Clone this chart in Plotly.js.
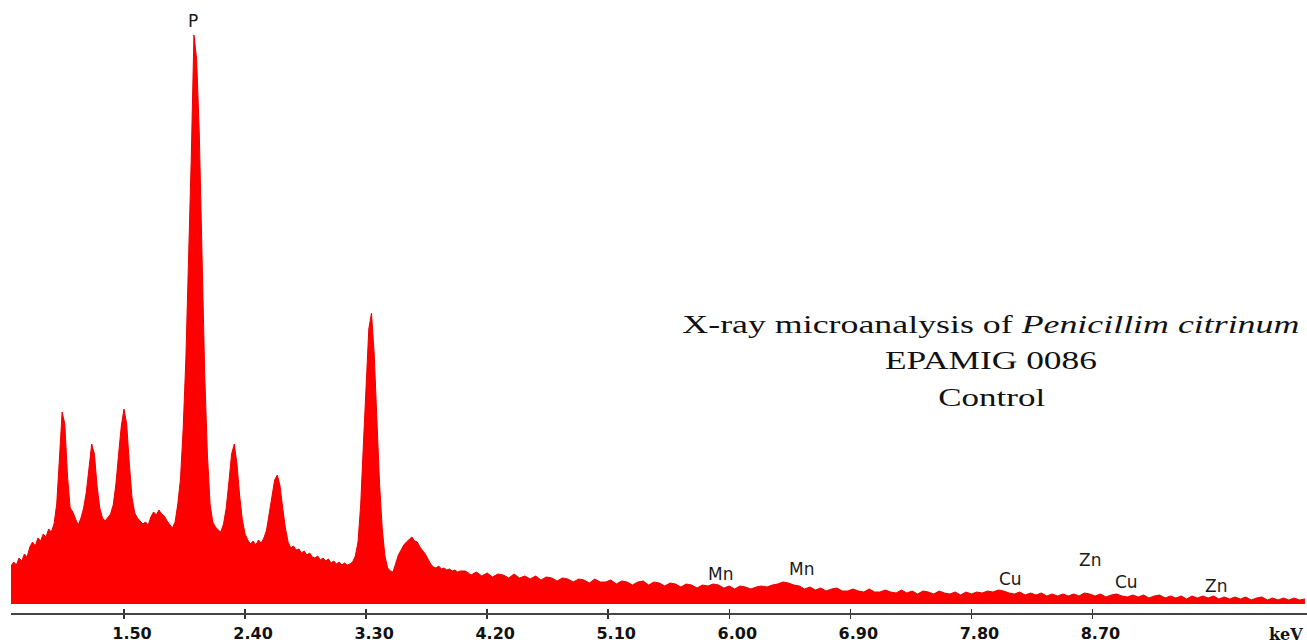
<!DOCTYPE html>
<html><head><meta charset="utf-8">
<script src="https://cdn.plot.ly/plotly-3.0.1.min.js"></script>
<style>html,body{margin:0;padding:0;background:#fff}#chart{width:1307px;height:643px}</style>
</head><body><div id="chart"></div>
<script>
// Spectrum, low-energy part: channels from 0.66 keV, 0.02 keV apart
const lowStartKeV = 0.66, lowStepKeV = 0.02;
const lowCounts = [
38,42,39,46,43,50,47,57,62,58,66,63,70,67,75,72,80,100,145,192,
180,128,96,92,85,79,86,96,112,138,160,150,118,96,86,83,87,90,99,120,
150,178,195,180,140,106,91,86,83,80,82,79,87,92,89,94,90,88,83,80,
76,82,100,125,175,245,335,445,569,545,470,350,230,150,100,82,77,74,72,80,
96,122,150,160,140,108,84,70,64,60,63,59,64,61,66,74,90,108,124,129,
118,96,76,62,56,58,54,55,51,53,49,51,47,46,48,44,46,43,45,41,
43,40,42,39,41,39,40,42,48,62,100,160,225,275,291,250,185,120,75,48,
36,33,32,40,49,54,59,62,65,67,63,62,57,54,50,45,40,37,36,38,
35,36,34,35,33,34,32,33
];
// Spectrum, high-energy part: channels from 4.04 keV, 0.04 keV apart
const highStartKeV = 4.04, highStepKeV = 0.04;
const highCounts = [
33,29,32,28,31,27,30,29,26,30,26,28,25,28,24,27,26,23,26,25,
22,25,24,21,25,22,22,24,20,23,22,19,22,23,19,22,21,18,21,20,
17,20,19,16,19,18,20,19,16,18,15,18,17,15,17,18,17,19,20,22,
21,19,18,15,17,14,16,13,15,16,13,13,15,13,12,15,12,12,14,12,
11,14,11,13,10,13,12,10,13,11,10,12,9,12,10,12,11,13,12,14,
13,11,10,12,9,11,9,11,8,10,8,10,8,10,8,11,10,8,10,7,
9,10,8,7,9,7,9,6,8,9,6,8,6,8,5,8,6,8,6,8,
5,7,5,7,5,7,4,6,7,4,6,4,6,4,6,4,5
];
const tickValues = [1.5, 2.4, 3.3, 4.2, 5.1, 6.0, 6.9, 7.8, 8.7];
const tickLabels = ['1.50', '2.40', '3.30', '4.20', '5.10', '6.00', '6.90', '7.80', '8.70'];
const unitLabel = 'keV';
const peakNames = ['P', 'Mn', 'Mn', 'Cu', 'Zn', 'Cu', 'Zn'];
const peakLabelKeV = [2.014, 5.938, 6.534, 8.090, 8.678, 8.953, 9.616];
const peakLabelCounts = [583, 30, 35, 25, 44, 22, 18];
const titleLines = ['X-ray microanalysis of <i>Penicillim citrinum</i>', 'EPAMIG 0086', 'Control'];

const energy = [];
const counts = [];
lowCounts.forEach((c, i) => { energy.push(+(lowStartKeV + i * lowStepKeV).toFixed(3)); counts.push(c); });
highCounts.forEach((c, i) => { energy.push(+(highStartKeV + i * highStepKeV).toFixed(3)); counts.push(c); });

const xRange = [0.660, 10.295];
const titleX = 7.948;
const titleY = [280, 244, 207];
const titleWidths = [617, 212, 107];

const annotations = [];
peakNames.forEach((n, i) => annotations.push({
  x: peakLabelKeV[i], y: peakLabelCounts[i], xref: 'x', yref: 'y', text: n, showarrow: false,
  xanchor: 'center', yanchor: 'middle', font: {family: 'DejaVu Sans', size: 17, color: '#1a1a1a'}
}));
titleLines.forEach((t, i) => annotations.push({
  x: titleX, y: titleY[i], xref: 'x', yref: 'y', text: t, showarrow: false,
  xanchor: 'center', yanchor: 'middle', font: {family: 'Liberation Serif', size: 26, color: '#111'}
}));
annotations.push({
  x: 9.998, y: -0.036, xref: 'x', yref: 'paper', text: unitLabel, showarrow: false,
  xanchor: 'left', yanchor: 'middle', font: {family: 'DejaVu Serif', size: 16, color: '#111', weight: 'bold'}
});

const traces = [
  {x: energy, y: counts, type: 'scatter', mode: 'lines', fill: 'tozeroy',
   fillcolor: '#ff0000', line: {color: '#ee0000', width: 1}, hoverinfo: 'x+y', showlegend: false},
  {x: [], y: [], type: 'scatter', mode: 'lines', xaxis: 'x2', yaxis: 'y', showlegend: false, hoverinfo: 'skip'}
];

const layout = {
  width: 1307, height: 643,
  margin: {l: 11, r: 0, t: 20, b: 30, pad: 0},
  paper_bgcolor: '#fff', plot_bgcolor: '#fff',
  showlegend: false,
  xaxis: {
    range: xRange, tickvals: tickValues, ticktext: tickLabels,
    ticks: 'outside', ticklen: 4, tickwidth: 1.5, tickcolor: '#333',
    ticklabelshift: 8, ticklabelstandoff: 1,
    showline: true, linecolor: '#444', linewidth: 1.5,
    showgrid: false, zeroline: false,
    tickfont: {family: 'DejaVu Sans', size: 16, color: '#111', weight: 'bold'}
  },
  xaxis2: {
    range: xRange, tickvals: tickValues, overlaying: 'x', anchor: 'y', side: 'bottom',
    ticks: 'inside', ticklen: 4, tickwidth: 1.5, tickcolor: '#333',
    showticklabels: false, showline: false, showgrid: false, zeroline: false
  },
  yaxis: {range: [-9, 584], visible: false, showgrid: false, zeroline: false},
  annotations: annotations
};

Plotly.newPlot('chart', traces, layout, {displayModeBar: false, staticPlot: true}).then(gd => {
  const nPeak = peakNames.length;
  titleLines.forEach((t, i) => {
    const g = gd.querySelector('.annotation[data-index="' + (nPeak + i) + '"] text.annotation-text');
    if (g) {
      g.setAttribute('textLength', titleWidths[i]);
      g.setAttribute('lengthAdjust', 'spacingAndGlyphs');
    }
  });
});
</script>
</body></html>
